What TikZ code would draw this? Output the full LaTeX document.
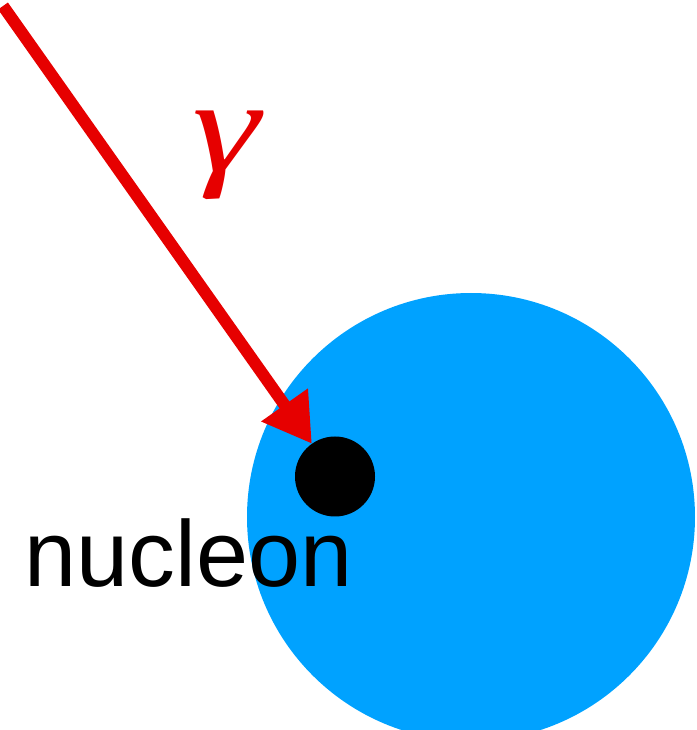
\documentclass[tikz,border=0pt]{standalone}
\usepackage{fontspec}
\setmainfont{Liberation Sans}
\newfontfamily\gammafont{Liberation Serif}
\usepackage{xcolor}
\usetikzlibrary{arrows.meta, positioning}

\definecolor{nucleusblue}{RGB}{0,162,255}
\definecolor{photonred}{RGB}{230,0,0}

\begin{document}
\begin{tikzpicture}[x=0.5pt, y=0.5pt,
  nucleus/.style={circle, fill=nucleusblue, minimum size=224pt, inner sep=0pt, outer sep=0pt},
  nucleondot/.style={circle, fill=black, minimum size=40pt, inner sep=0pt, outer sep=0pt},
  photon/.style={-{Triangle[length=23.8pt, width=26.9pt]}, line width=6pt, draw=photonred, fill=photonred}
]
\useasboundingbox (0,0) rectangle (697,730);

% Nodes
\node[nucleus] (nuc) at (471,213) {};
\node[nucleondot] (dot) at (335,253.5) {};
\node[anchor=base west, inner sep=0pt, font=\fontsize{46.8pt}{50pt}\selectfont] (name) at (24,143) {nucleon};
\node[text=photonred, inner sep=0pt, xscale=1.3, font=\gammafont\itshape\fontsize{66pt}{70pt}\selectfont] (gam) at (226,575) {γ};
\coordinate (src) at (3,724);

% Arrows
\draw[photon] (src) -- (dot);

\end{tikzpicture}
\end{document}
